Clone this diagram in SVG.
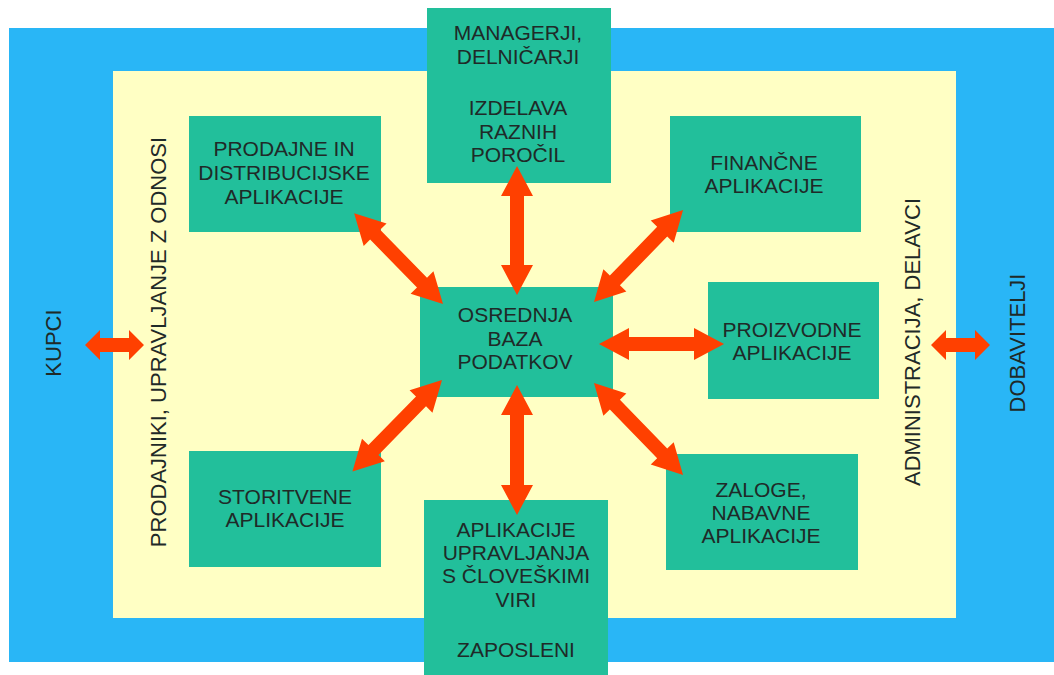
<svg xmlns="http://www.w3.org/2000/svg" width="1054" height="675" viewBox="0 0 1054 675">
<style>
.node{fill:#22BF9B}
.t{font-family:"Liberation Sans",Arial,sans-serif;font-size:21px;fill:#1f2a28;text-anchor:middle}
.v{font-family:"Liberation Sans",Arial,sans-serif;font-size:22px;fill:#1f2a28;text-anchor:middle}
.arr{fill:#FF4000}
</style>
<rect width="1054" height="675" fill="#ffffff"/>
<g id="outer"><rect x="9" y="28" width="1045" height="634" fill="#29B6F6"/></g>
<g id="inner"><rect x="113" y="71" width="843" height="547" fill="#FFFFC4"/></g>
<g id="label-kupci"><text class="v" transform="translate(61,343) rotate(-90)">KUPCI</text></g>
<g id="label-prodajniki"><text class="v" transform="translate(166,342) rotate(-90)">PRODAJNIKI, UPRAVLJANJE Z ODNOSI</text></g>
<g id="label-administracija"><text class="v" transform="translate(920,342) rotate(-90)">ADMINISTRACIJA, DELAVCI</text></g>
<g id="label-dobavitelji"><text class="v" transform="translate(1025,343) rotate(-90)">DOBAVITELJI</text></g>
<g id="managerji"><rect class="node" x="427" y="8" width="184" height="175"/>
<text class="t" x="518" y="40">MANAGERJI,</text><text class="t" x="518" y="64">DELNIČARJI</text>
<text class="t" x="518" y="115">IZDELAVA</text><text class="t" x="518" y="139">RAZNIH</text><text class="t" x="518" y="162">POROČIL</text></g>
<g id="prodajne"><rect class="node" x="189" y="116" width="192" height="116"/>
<text class="t" x="284" y="156">PRODAJNE IN</text><text class="t" x="284" y="180">DISTRIBUCIJSKE</text><text class="t" x="284" y="204">APLIKACIJE</text></g>
<g id="financne"><rect class="node" x="670" y="116" width="191" height="116"/>
<text class="t" x="764" y="170">FINANČNE</text><text class="t" x="764" y="193">APLIKACIJE</text></g>
<g id="osrednja"><rect class="node" x="420" y="287" width="193" height="110"/>
<text class="t" x="515" y="322">OSREDNJA</text><text class="t" x="515" y="346">BAZA</text><text class="t" x="515" y="369">PODATKOV</text></g>
<g id="proizvodne"><rect class="node" x="708" y="282" width="171" height="117"/>
<text class="t" x="792" y="337">PROIZVODNE</text><text class="t" x="792" y="360">APLIKACIJE</text></g>
<g id="storitvene"><rect class="node" x="189" y="451" width="192" height="116"/>
<text class="t" x="285" y="504">STORITVENE</text><text class="t" x="285" y="527">APLIKACIJE</text></g>
<g id="zaloge"><rect class="node" x="666" y="454" width="192" height="116"/>
<text class="t" x="761" y="497">ZALOGE,</text><text class="t" x="761" y="520">NABAVNE</text><text class="t" x="761" y="543">APLIKACIJE</text></g>
<g id="cloveski"><rect class="node" x="424" y="500" width="184" height="175"/>
<text class="t" x="516" y="537">APLIKACIJE</text><text class="t" x="516" y="560">UPRAVLJANJA</text><text class="t" x="516" y="583">S ČLOVEŠKIMI</text><text class="t" x="516" y="607">VIRI</text>
<text class="t" x="516" y="657">ZAPOSLENI</text></g>
<g id="connectors" class="arr">
<polygon transform="translate(85,345)" points="0,0 15,-15 15,-7 44,-7 44,-15 59,0 44,15 44,7 15,7 15,15"/>
<polygon transform="translate(931,345)" points="0,0 15,-15 15,-7 44,-7 44,-15 59,0 44,15 44,7 15,7 15,15"/>
<polygon transform="translate(599,344)" points="0,0 30,-16 30,-7 95,-7 95,-16 125,0 95,16 95,7 30,7 30,16"/>
<polygon transform="translate(517,295) rotate(-90)" points="0,0 30,-16 30,-7 99,-7 99,-16 129,0 99,16 99,7 30,7 30,16"/>
<polygon transform="translate(517,385) rotate(90)" points="0,0 30,-16 30,-7 100,-7 100,-16 130,0 100,16 100,7 30,7 30,16"/>
<polygon transform="translate(443,304) rotate(-134.4)" points="0,0 30,-16 30,-7 97,-7 97,-16 127,0 97,16 97,7 30,7 30,16"/>
<polygon transform="translate(594,302) rotate(-45.9)" points="0,0 30,-16 30,-7 98,-7 98,-16 128,0 98,16 98,7 30,7 30,16"/>
<polygon transform="translate(442,380) rotate(134.4)" points="0,0 30,-16 30,-7 98,-7 98,-16 128,0 98,16 98,7 30,7 30,16"/>
<polygon transform="translate(594,383) rotate(45.9)" points="0,0 30,-16 30,-7 98,-7 98,-16 128,0 98,16 98,7 30,7 30,16"/>
</g>
</svg>
